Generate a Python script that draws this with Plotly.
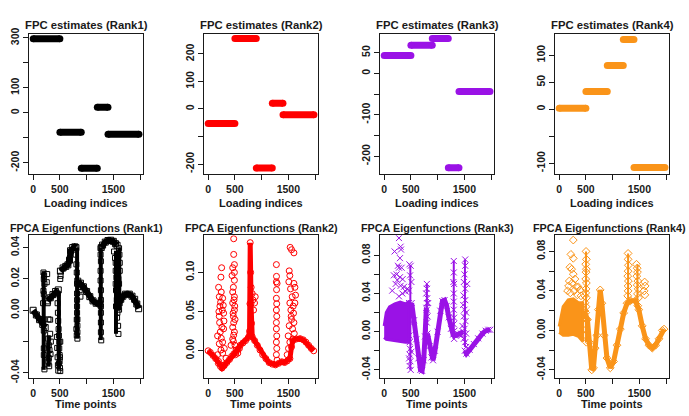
import plotly.graph_objects as go

# ---------------- data ----------------
x_tickvals = [0, 500, 1000, 1500, 2000]
x_ticktext = ["0", "500", "", "1500", ""]

# Top row: piecewise-constant FPC estimates (loading index blocks)
block_start = [1, 501, 901, 1201, 1401]
block_end = [500, 900, 1200, 1400, 1980]
fpc_rank1 = [297, -78, -222, 22, -86]
fpc_rank2 = [-53, 256, -215, 21, -21]
fpc_rank3 = [43, 68, 84, -228, -44]
fpc_rank4 = [2, 33, 81, 129, -108]

# Bottom row: eigenfunctions - dense main band (None = break), dense vertical columns, scattered points
ef1_t = [0, 60, 120, 180, 225, None, 270, 320, 370, 420, 470, None,
         510, 560, 610, 650, 680, 700, 740, 780, 800, None,
         835, 885, 940, 1000, 1060, 1120, 1180, 1250, None,
         1275, 1300, 1350, 1400, 1450, 1500, 1540, 1570, None,
         1605, 1640, 1680, 1730, 1800, 1850, 1900, 1940, 1975]
ef1_f = [0.0, -0.003, -0.006, -0.009, -0.011, None, 0.006, 0.008, 0.010, 0.012, 0.013, None,
         0.025, 0.027, 0.028, 0.029, 0.032, 0.038, 0.040, 0.0405, 0.040, None,
         0.0186, 0.0173, 0.015, 0.012, 0.0087, 0.006, 0.0045, 0.004, None,
         0.040, 0.0416, 0.0435, 0.0445, 0.0447, 0.044, 0.0425, 0.0415, None,
         0.0045, 0.007, 0.009, 0.0103, 0.0103, 0.009, 0.007, 0.004, 0.001]
ef1_col_t = [197, 290, 482, 822, 1266, 1550, 1612]
ef1_col_lo = [-0.038, -0.036, -0.038, -0.018, -0.019, -0.015, 0.000]
ef1_col_hi = [0.025, -0.016, 0.012, 0.040, 0.040, 0.038, 0.040]
ef1_spk_t = [193, 205, 199, 211, 193, 199, 186, 193, 199, 199, 199, 211,
             262, 255, 274, 287, 281, 293, 306, 293, 287, 300, 318, 318, 331, 325,
             457, 457, 463, 469, 476, 482, 488, 488, 495, 495, 501, 507, 444, 450, 457, 463, 470, 482, 501, 507, 507, 513,
             797, 809, 816, 822, 822, 822, 822, 822, 828, 828, 828, 828, 816, 809, 816, 860, 872, 885,
             1262, 1262, 1268, 1262, 1262, 1268, 1268, 1268, 1268, 1268, 1268, 1274,
             1514, 1533, 1545, 1545, 1558, 1545, 1551, 1565, 1551, 1577, 1571, 1590, 1596,
             1608, 1615, 1621, 1621, 1608, 1602, 1615, 1608, 1590, 1583, 1596]
ef1_spk_f = [0.0241, 0.0221, 0.0200, 0.0169, 0.0124, 0.0103, 0.0045, -0.0058, -0.0130, -0.0243, -0.0285, -0.0377,
             0.0231, 0.0179, 0.0045, -0.0058, -0.0181, -0.0223, -0.0254, -0.0305, -0.0326, -0.0357, -0.006, -0.015, -0.020, -0.028,
             0.0107, 0.0045, -0.0016, -0.0068, -0.0120, -0.0161, -0.0202, -0.0243, -0.0285, -0.0326, -0.0367, -0.0388,
             -0.017, -0.024, -0.030, -0.035, -0.0385, -0.034, -0.030, -0.020, 0.020, 0.022,
             0.0355, 0.0293, 0.0241, 0.0169, 0.0107, 0.0066, 0.0025, -0.0016, -0.0058, -0.0099, -0.0140, -0.0181,
             -0.016, -0.012, -0.006, 0.0148, 0.0128, 0.0087,
             0.0396, 0.0355, 0.0313, 0.0252, 0.0190, 0.0128, 0.0066, 0.0025, -0.0016, -0.0078, -0.0140, -0.0192,
             0.0375, 0.0334, 0.0303, 0.0252, 0.0210, 0.0169, 0.0128, 0.0066, 0.0025, -0.0016, -0.0047, -0.0099, -0.0151,
             0.0396, 0.0355, 0.0303, 0.0252, 0.0169, 0.0087, 0.0045, 0.0004, 0.0355, 0.030, 0.020]

ef2_t = [0, 40, 90, 140, 190, 230, 260, 300, 350, 400, 440, 480, 520, 560, 600, 650, 700, 750,
         775, 782, 787, 795, 802, 812, 825, 870, 920, 970, 1020, 1080, 1140, 1200, 1260, 1320,
         1380, 1430, 1480, 1530, 1560, 1585, 1650, 1720, 1780, 1830, 1880, 1930, 1975]
ef2_f = [0.0, -0.002, -0.006, -0.010, -0.016, -0.020, -0.022, -0.019, -0.015, -0.011, -0.007, -0.004,
         -0.002, 0.002, 0.007, 0.010, 0.013, 0.017, 0.025, 0.060, 0.138, 0.100, 0.060, 0.035, 0.018,
         0.013, 0.007, 0.001, -0.005, -0.010, -0.015, -0.017, -0.018, -0.016, -0.014, -0.015, -0.013,
         -0.010, 0.005, 0.013, 0.015, 0.0155, 0.014, 0.011, 0.007, 0.003, 0.0]
ef2_col_t = []
ef2_col_lo = []
ef2_col_hi = []
ef2_spk_t = [252, 239, 195, 208, 271, 220, 289, 208, 258, 289, 176, 208, 271, 239, 302, 176, 271, 334, 195, 302,
             245, 233, 214, 227, 264, 283, 201, 246, 296,
             478, 478, 491, 459, 491, 447, 491, 472, 459, 491, 459, 491, 472, 478, 459, 491, 459, 503, 522, 428, 510, 554, 585,
             484, 466, 497, 478, 503, 472,
             805, 824, 837, 868, 850, 881,
             1277, 1277, 1290, 1277, 1277, 1284, 1277, 1277, 1284, 1277, 1284, 1277, 1290, 1280, 1283, 1279,
             1535, 1561, 1605, 1517, 1529, 1510, 1605, 1542, 1624, 1573, 1529, 1592, 1554, 1605, 1580, 1498, 1529, 1504,
             1479, 1561, 1517, 1624, 1636, 1598, 1612, 1586, 1548]
ef2_spk_f = [0.106, 0.094, 0.081, 0.069, 0.067, 0.057, 0.048, 0.044, 0.030, 0.028, 0.019, 0.009, 0.011, 0.001,
             0.003, -0.005, -0.003, -0.0095, -0.0136, -0.018,
             0.075, 0.062, 0.036, 0.024, 0.052, 0.058, 0.050, 0.016, 0.038,
             0.143, 0.123, 0.110, 0.106, 0.100, 0.096, 0.090, 0.081, 0.075, 0.069, 0.061, 0.052, 0.044, 0.036,
             0.030, 0.024, 0.015, 0.007, 0.001, 0.007, -0.005, -0.003, 0.003,
             0.065, 0.048, 0.057, 0.020, 0.040, 0.012,
             0.081, 0.073, 0.065, 0.061, 0.052, 0.069,
             0.110, 0.088, 0.086, 0.067, 0.052, 0.044, 0.036, 0.028, 0.019, 0.011, 0.003, -0.005, -0.012,
             0.078, 0.060, 0.095,
             0.132, 0.129, 0.125, 0.102, 0.096, 0.088, 0.086, 0.079, 0.081, 0.069, 0.061, 0.057, 0.044, 0.036,
             0.028, 0.019, 0.011, 0.003, -0.005, 0.040, 0.032, 0.061, 0.071, 0.048, 0.022, 0.015, 0.052]

ef3_wedge_t = [0, 40, 100, 200, 300, 400, 470]
ef3_wedge_hi = [0.006, 0.020, 0.026, 0.029, 0.031, 0.029, 0.032]
ef3_wedge_lo = [-0.006, -0.008, -0.008, -0.009, -0.010, -0.011, -0.011]
ef3_t = [515, 560, 600, 640, 680, 710, 740, 765, 790, None,
         810, 850, 885, 915, 950, 1000, 1050, 1090, 1130, 1170, 1210, 1250, 1290, 1340, 1390, 1440, 1480, None,
         1510, 1540, 1600, 1680, 1760, 1840, 1900, 1950, 1985]
ef3_f = [0.030, 0.012, -0.008, -0.028, -0.040, -0.041, -0.030, -0.005, 0.025, None,
         -0.002, -0.015, -0.027, -0.030, -0.020, 0.000, 0.022, 0.032, 0.033, 0.027, 0.015, 0.003, -0.003,
         -0.004, -0.003, -0.002, 0.000, None,
         -0.020, -0.023, -0.019, -0.013, -0.007, -0.002, 0.001, 0.002, 0.002]
ef3_col_t = [490, 800, 1303, 1512]
ef3_col_lo = [-0.040, 0.000, -0.0075, -0.016]
ef3_col_hi = [0.070, 0.050, 0.074, 0.0756]
ef3_spk_t = [277, 195, 308, 315, 296, 258, 277, 327, 233, 182, 296, 346, 245, 214, 308, 371, 151, 434, 403, 340, 466, 277,
             472, 497, 485, 510, 466, 478, 485, 472, 478, 485, 478, 491, 478, 497, 466, 510,
             799, 799, 787, 806, 799, 799, 812, 799, 824,
             1303, 1303, 1296, 1309, 1303, 1303, 1303, 1309, 1303, 1315, 1309,
             1517, 1517, 1504, 1491, 1554, 1517, 1485, 1517, 1479, 1504, 1535, 1491, 1523, 1466, 1504, 1535, 1491,
             1517, 1535, 1441]
ef3_spk_f = [0.098, 0.084, 0.089, 0.086, 0.077, 0.069, 0.067, 0.067, 0.060, 0.059, 0.057, 0.055, 0.054, 0.050,
             0.048, 0.047, 0.043, 0.045, 0.042, 0.040, 0.043, 0.037,
             0.0705, 0.069, 0.059, 0.052, 0.030, 0.020, 0.0095, -0.004, -0.011, -0.018, -0.024, -0.031, -0.036,
             -0.040, -0.028, -0.021,
             0.050, 0.045, 0.040, 0.035, 0.030, 0.023, 0.016, 0.0095, 0.030,
             0.074, 0.062, 0.052, 0.050, 0.040, 0.0315, 0.023, 0.0146, 0.0078, 0.001, -0.0075,
             0.0756, 0.069, 0.060, 0.052, 0.050, 0.045, 0.038, 0.033, 0.028, 0.023, 0.020, 0.016, 0.011, 0.006,
             0.003, -0.002, -0.0075, -0.011, -0.016, -0.004]

ef4_wedge_t = [0, 75, 170, 264, 359, 440]
ef4_wedge_hi = [0.004, 0.024, 0.031, 0.032, 0.028, 0.028]
ef4_wedge_lo = [-0.002, -0.005, -0.005, -0.004, -0.006, -0.011]
ef4_t = [470, 529, 566, 610, 642, 673, 705, 736, 768, 799, 843, 894, 957, 1019, 1082, 1145, 1208, 1271,
         1334, 1429, 1491, 1554, 1617, 1680, 1743, 1806, 1869, 1932, 1963]
ef4_f = [0.020, 0.011, -0.012, -0.040, -0.038, -0.018, -0.005, 0.021, 0.041, 0.0275, -0.005, -0.028, -0.038,
         -0.0315, -0.015, 0.0013, 0.0177, 0.0275, 0.030, 0.030, 0.021, 0.0046, -0.0085, -0.015, -0.018,
         -0.015, -0.0085, 0.0, 0.0013]
ef4_col_t = [503, 1290, 1465]
ef4_col_lo = [-0.012, 0.030, 0.025]
ef4_col_hi = [0.080, 0.078, 0.067]
ef4_spk_t = [264, 220, 264, 201, 233, 264, 189, 296, 327, 359, 390, 157, 176, 245, 283, 208, 340, 409,
             503, 509, 497, 509, 503, 497, 509, 503, 497, 509, 503, 497, 509, 503, 497, 509, 478, 484, 472,
             1290, 1290, 1296, 1290, 1284, 1296, 1290, 1290, 1284,
             1447, 1460, 1466, 1453, 1472, 1460, 1479, 1466, 1485, 1472,
             1600, 1610, 1590, 1605]
ef4_spk_f = [0.0915, 0.077, 0.073, 0.064, 0.062, 0.057, 0.050, 0.052, 0.044, 0.044, 0.041, 0.040, 0.045,
             0.048, 0.040, 0.038, 0.036, 0.035,
             0.080, 0.072, 0.067, 0.062, 0.059, 0.052, 0.048, 0.042, 0.038, 0.033, 0.024, 0.018, 0.011,
             0.001, -0.005, -0.012, 0.035, 0.028, 0.020,
             0.078, 0.072, 0.066, 0.060, 0.055, 0.050, 0.045, 0.040, 0.035,
             0.067, 0.063, 0.059, 0.055, 0.050, 0.046, 0.042, 0.037, 0.033, 0.025,
             0.049, 0.045, 0.040, 0.036]

top_titles = ["FPC estimates (Rank1)", "FPC estimates (Rank2)", "FPC estimates (Rank3)", "FPC estimates (Rank4)"]
bot_titles = ["FPCA Eigenfunctions (Rank1)", "FPCA Eigenfunctions (Rank2)",
              "FPCA Eigenfunctions (Rank3)", "FPCA Eigenfunctions (Rank4)"]

# ---------------- styling / layout ----------------
W, H = 689, 416
colors = ["#000000", "#FF0000", "#9A12E6", "#FA9419"]
symbols = ["square-open", "circle-open", "x-thin-open", "diamond-open"]
band_w = [6, 5, 5, 5]
col_w = [4, 2, 2, 2]
spk_size = [5, 6, 6, 6]
cols_px = [(29, 143), (204, 318), (380, 494), (555, 669)]
rows_px = [(28, 172), (235, 382)]
bot_title_cx = [86, 261, 437, 609]
xrange_ = [-78, 2056]
top_yr = [[-245, 315], [-236.5, 272], [-243, 94.5], [-120, 139]]
top_tv = [[-200, -100, 0, 100, 200, 300], [-200, -100, 0, 100, 200],
          [-200, -150, -100, -50, 0, 50], [-100, -50, 0, 50, 100]]
top_tt = [["-200", "", "0", "100", "", "300"], ["-200", "", "0", "100", "200"],
          ["-200", "", "-100", "", "0", "50"], ["-100", "", "0", "50", "100"]]
bot_yr = [[-0.0432, 0.0479], [-0.0347, 0.1475], [-0.0485, 0.101], [-0.0482, 0.0964]]
bot_tv = [[-0.04, -0.02, 0, 0.02, 0.04], [0, 0.05, 0.10],
          [-0.04, -0.02, 0, 0.02, 0.04, 0.06, 0.08], [-0.04, -0.02, 0, 0.02, 0.04, 0.06, 0.08]]
bot_tt = [["-0.04", "", "0.00", "0.02", "0.04"], ["0.00", "0.05", "0.10"],
          ["-0.04", "", "0.00", "", "0.04", "", "0.08"], ["-0.04", "", "0.00", "", "0.04", "", "0.08"]]

FONT = "Liberation Sans"
TXT = "#1a1a1a"
fig = go.Figure()
layout = dict(width=W, height=H, margin=dict(l=0, r=0, t=0, b=0), showlegend=False,
              paper_bgcolor="white", plot_bgcolor="white", annotations=[])


def axname(i):
    return "" if i == 1 else str(i)


def add_axes(i, cpx, rpx, yr, tv, tt):
    n = axname(i)
    common = dict(showline=True, linecolor=TXT, linewidth=1.3, mirror=True, ticks="outside",
                  ticklen=5, tickwidth=1, tickcolor=TXT, showgrid=False, zeroline=False,
                  tickfont=dict(family=FONT, size=10.5, color=TXT, weight="bold"))
    layout["xaxis" + n] = dict(common, domain=[cpx[0] / W, cpx[1] / W], range=xrange_,
                               tickvals=x_tickvals, ticktext=x_ticktext, anchor="y" + n)
    layout["yaxis" + n] = dict(common, domain=[1 - rpx[1] / H, 1 - rpx[0] / H], range=yr,
                               tickvals=tv, ticktext=tt, tickangle=-90, anchor="x" + n)


def ann(text, xpx, ypx, size):
    layout["annotations"].append(dict(text="<b>" + text + "</b>", x=xpx / W, y=1 - ypx / H,
                                      xref="paper", yref="paper", showarrow=False,
                                      xanchor="center", yanchor="middle",
                                      font=dict(family=FONT, size=size, color=TXT)))


top_vals = [fpc_rank1, fpc_rank2, fpc_rank3, fpc_rank4]
for k in range(4):
    i = k + 1
    add_axes(i, cols_px[k], rows_px[0], top_yr[k], top_tv[k], top_tt[k])
    n = axname(i)
    for s, e, v in zip(block_start, block_end, top_vals[k]):
        fig.add_trace(go.Scatter(x=[s, e], y=[v, v], mode="lines+markers",
                                 line=dict(color=colors[k], width=7),
                                 marker=dict(color=colors[k], size=7, symbol="circle"),
                                 xaxis="x" + n, yaxis="y" + n, hoverinfo="skip"))
    cx = (cols_px[k][0] + cols_px[k][1]) / 2
    ann(top_titles[k], cx, 19, 11.3)
    ann("Loading indices", cx, 202, 11)

bot_main = [(ef1_t, ef1_f), (ef2_t, ef2_f), (ef3_t, ef3_f), (ef4_t, ef4_f)]
bot_cols = [(ef1_col_t, ef1_col_lo, ef1_col_hi), (ef2_col_t, ef2_col_lo, ef2_col_hi),
            (ef3_col_t, ef3_col_lo, ef3_col_hi), (ef4_col_t, ef4_col_lo, ef4_col_hi)]
bot_spk = [(ef1_spk_t, ef1_spk_f), (ef2_spk_t, ef2_spk_f), (ef3_spk_t, ef3_spk_f), (ef4_spk_t, ef4_spk_f)]
wedges = {2: (ef3_wedge_t, ef3_wedge_hi, ef3_wedge_lo), 3: (ef4_wedge_t, ef4_wedge_hi, ef4_wedge_lo)}
for k in range(4):
    i = k + 5
    add_axes(i, cols_px[k], rows_px[1], bot_yr[k], bot_tv[k], bot_tt[k])
    n = axname(i)
    c = colors[k]
    if k in wedges:
        wt, whi, wlo = wedges[k]
        fig.add_trace(go.Scatter(x=list(wt) + list(wt)[::-1], y=list(whi) + list(wlo)[::-1],
                                 mode="lines", fill="toself", fillcolor=c,
                                 line=dict(color=c, width=3), xaxis="x" + n, yaxis="y" + n,
                                 hoverinfo="skip"))
    ct, clo, chi = bot_cols[k]
    cx_, cy_ = [], []
    for tt_, lo, hi in zip(ct, clo, chi):
        cx_ += [tt_, tt_, None]
        cy_ += [lo, hi, None]
    if cx_:
        fig.add_trace(go.Scatter(x=cx_, y=cy_, mode="lines", connectgaps=False,
                                 line=dict(color=c, width=col_w[k]),
                                 xaxis="x" + n, yaxis="y" + n, hoverinfo="skip"))
    t, f = bot_main[k]
    fig.add_trace(go.Scatter(x=t, y=f, mode="lines+markers", connectgaps=False,
                             line=dict(color=c, width=band_w[k]),
                             marker=dict(symbol=symbols[k], size=6, color=c, line=dict(color=c, width=1)),
                             xaxis="x" + n, yaxis="y" + n, hoverinfo="skip"))
    st, sf = bot_spk[k]
    fig.add_trace(go.Scatter(x=st, y=sf, mode="markers",
                             marker=dict(symbol=symbols[k], size=spk_size[k], color=c,
                                         line=dict(color=c, width=1)),
                             xaxis="x" + n, yaxis="y" + n, hoverinfo="skip"))
    ann(bot_titles[k], bot_title_cx[k], 228, 10.8)
    ann("Time points", (cols_px[k][0] + cols_px[k][1]) / 2, 409, 11)

fig.update_layout(**layout)
fig.write_html("out.html")
